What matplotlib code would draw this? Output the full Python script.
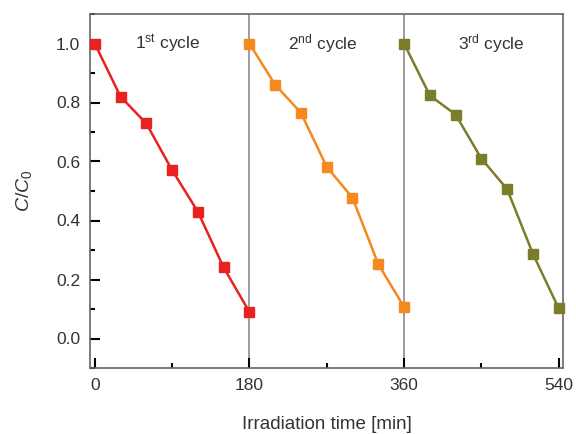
import numpy as np
import matplotlib.pyplot as plt
from matplotlib.ticker import MultipleLocator

plt.rcParams['font.family'] = ['Liberation Sans', 'DejaVu Sans']
plt.rcParams['mathtext.fontset'] = 'custom'
plt.rcParams['mathtext.rm'] = 'Liberation Sans'
plt.rcParams['mathtext.it'] = 'Liberation Sans:italic'

# Data
t1 = [0, 30, 60, 90, 120, 150, 180]
c1 = [1.0, 0.82, 0.729, 0.571, 0.43, 0.241, 0.09]
t2 = [180, 210, 240, 270, 300, 330, 360]
c2 = [1.0, 0.86, 0.765, 0.582, 0.477, 0.252, 0.107]
t3 = [360, 390, 420, 450, 480, 510, 540]
c3 = [1.0, 0.824, 0.759, 0.61, 0.506, 0.287, 0.102]

cycle_labels = [r'1$^{\mathrm{st}}$ cycle', r'2$^{\mathrm{nd}}$ cycle', r'3$^{\mathrm{rd}}$ cycle']
label_x = [85, 265, 462]
colors = ['#e8231f', '#f5891f', '#7b7d2b']
dividers = [180, 360]

fig = plt.figure(figsize=(5.76, 4.34), dpi=100)
ax = fig.add_axes([90 / 576, 1 - 368 / 434, 473 / 576, 354 / 434])

for x in dividers:
    ax.axvline(x, color='#8c8c8c', lw=1.2, zorder=1)

for t, c, col in zip([t1, t2, t3], [c1, c2, c3], colors):
    ax.plot(t, c, '-s', color=col, lw=1.8, ms=7.5, zorder=3, clip_on=False)

for x, lab in zip(label_x, cycle_labels):
    ax.text(x, 1.0, lab, ha='center', va='center', fontsize=12.5, color='#333333')

ax.set_xlim(-5.5, 545)
ax.set_ylim(-0.1, 1.1)
ax.xaxis.set_major_locator(MultipleLocator(180))
ax.xaxis.set_minor_locator(MultipleLocator(90))
ax.yaxis.set_major_locator(MultipleLocator(0.2))
ax.yaxis.set_minor_locator(MultipleLocator(0.1))
ax.set_yticks(np.arange(0, 1.01, 0.2))
ax.set_yticklabels([f'{v:.1f}' for v in np.arange(0, 1.01, 0.2)])

ax.tick_params(which='both', direction='in', color='black', width=1.5,
               labelsize=12.5, labelcolor='#333333', top=False, right=False)
ax.tick_params(which='major', length=7)
ax.tick_params(which='minor', length=3.5)
ax.tick_params(axis='x', pad=7)
ax.tick_params(axis='y', pad=7)

for s in ax.spines.values():
    s.set_color('#666666')
    s.set_linewidth(1.2)

ax.set_xlabel('Irradiation time [min]', fontsize=13.5, color='#333333', labelpad=17)
ax.set_ylabel(r'$C/C_0$', fontsize=14, color='#333333', labelpad=16)

fig.savefig('out.png', dpi=100)
